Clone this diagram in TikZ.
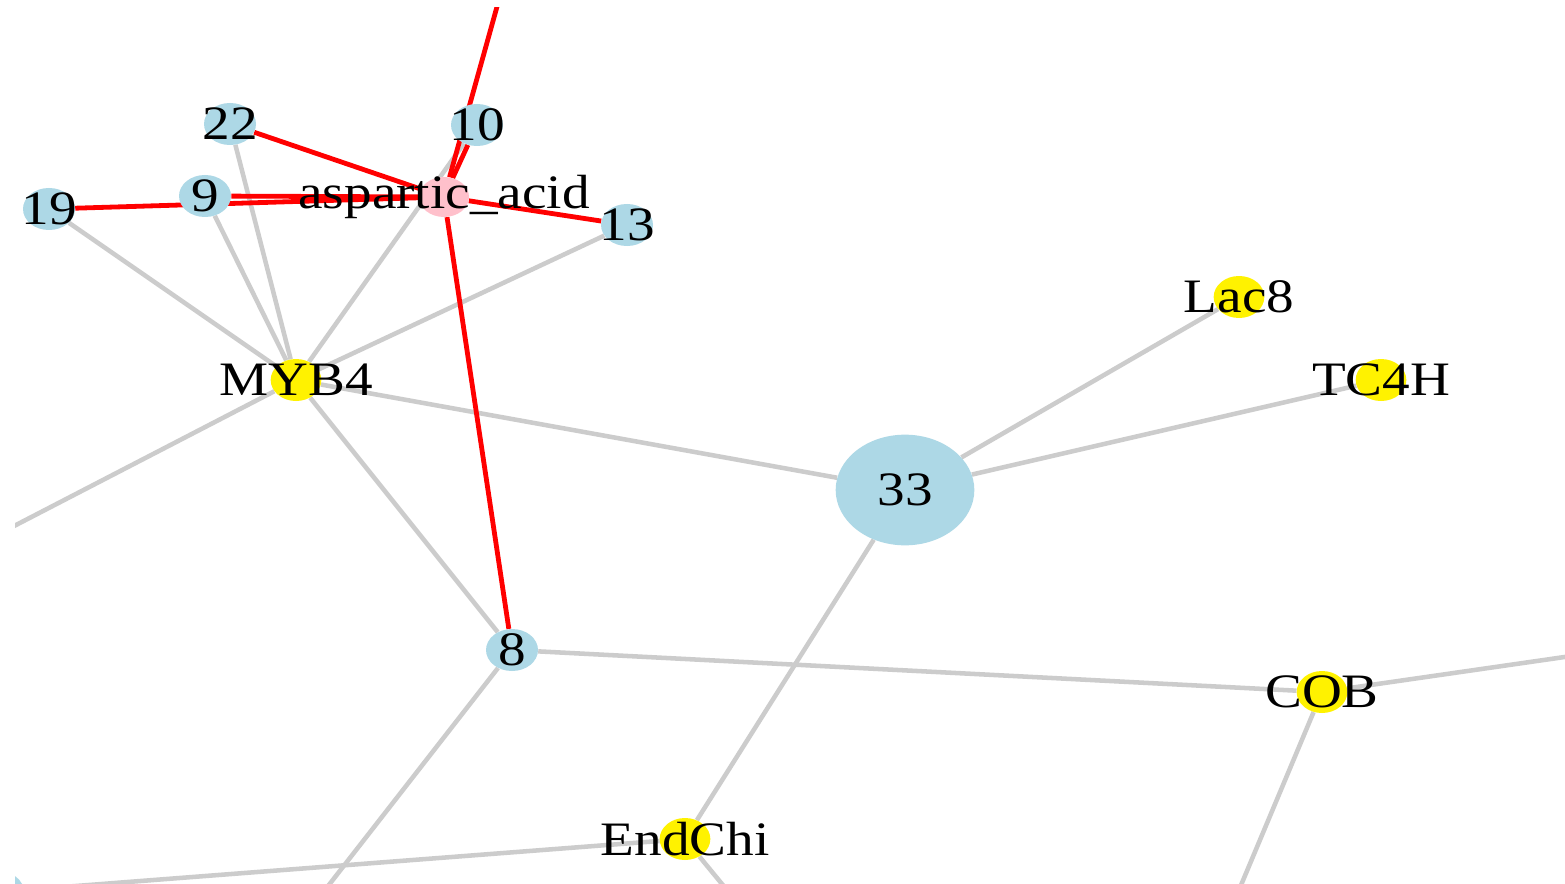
\documentclass[tikz,border=0pt]{standalone}
\usepackage{fontspec}
\setmainfont{Liberation Serif}
\usepackage{tikz}
\usetikzlibrary{shapes.geometric, backgrounds}
\definecolor{edgegray}{RGB}{204,204,204}
\definecolor{bluenode}{RGB}{173,216,230}
\definecolor{pinknode}{RGB}{255,192,203}
\newcommand{\wide}[1]{\scalebox{1.15}[1]{#1}}
\tikzset{
  gene/.style={ellipse, fill=bluenode, inner sep=0pt, minimum width=39pt, minimum height=31.5pt},
  hub/.style={gene, minimum width=104pt, minimum height=83pt},
  metab/.style={ellipse, fill=pinknode, inner sep=0pt, minimum width=37.5pt, minimum height=30pt},
  tf/.style={ellipse, fill=yellow, inner sep=0pt, minimum width=38pt, minimum height=31.5pt},
  lbl/.style={inner sep=0pt, font=\fontsize{36}{40}\selectfont},
  link/.style={draw=edgegray, line width=3.4pt},
  hit/.style={draw=red, line width=3.6pt}
}

\begin{document}
\begin{tikzpicture}[x=0.75pt, y=-0.75pt]
	\useasboundingbox (0,0) rectangle (1565,884);
	\clip (15,8) rectangle (1565,884);
	% nodes
	\node[gene] (n22) at (230,124) {};
	\node[gene] (n10) at (477,125) {};
	\node[gene] (n19) at (49,209) {};
	\node[gene] (n9) at (205,196) {};
	\node[gene] (n13) at (627,225) {};
	\node[gene] (n8) at (512,650) {};
	\node[gene] (n0) at (-2,892) {};
	\node[hub] (n33) at (905,490) {};
	\node[metab] (asp) at (444,197) {};
	\node[tf] (myb) at (296,380) {};
	\node[tf] (lac) at (1239,297) {};
	\node[tf] (tc4h) at (1381,380) {};
	\node[tf] (cob) at (1322,692) {};
	\node[tf] (endchi) at (685,839) {};
	% ends of edges that leave the picture
	\coordinate (outTop) at (510,-40);
	\coordinate (outLeft) at (-40,554);
	\coordinate (outBotA) at (286,940);
	\coordinate (outBotB) at (768,940);
	\coordinate (outBotC) at (1218,940);
	\coordinate (outRight) at (1620,649);

	% edges
	\begin{scope}[on background layer]
		\fill[white] (0,0) rectangle (1565,884);
		\clip (15,8) rectangle (1565,884);
		\foreach \a/\b in {n19/myb, n9/myb, n22/myb, n10/myb, n13/myb,
			myb/n33, myb/outLeft, myb/n8, n33/lac, n33/tc4h, n33/endchi,
			n8/cob, n8/outBotA, cob/outRight, cob/outBotC,
			endchi/n0, endchi/outBotB} {
			\draw[link] (\a) -- (\b);
		}
		\foreach \b in {outTop, n10, n22, n9, n19, n13, n8} {
			\draw[hit] (asp) -- (\b);
		}
	\end{scope}

	% labels
	\foreach \n/\t in {n22/22, n10/10, n19/19, n9/9, n13/13, n8/8, n33/33,
		asp/aspartic\_acid, myb/MYB4, lac/Lac8, tc4h/TC4H, cob/COB, endchi/EndChi} {
		\node[lbl] at (\n) {\wide{\t}};
	}
\end{tikzpicture}
\end{document}
